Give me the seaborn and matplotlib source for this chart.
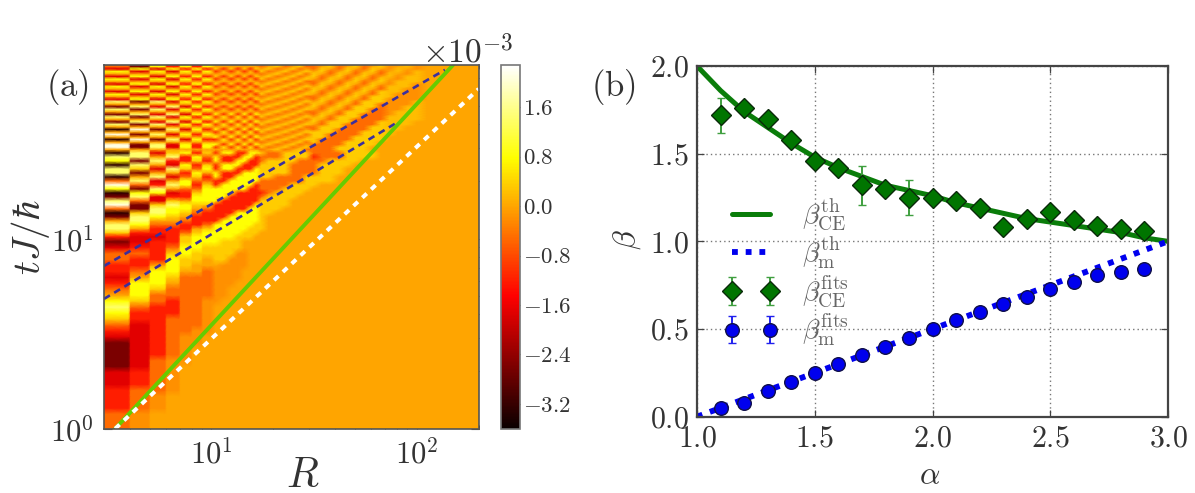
import numpy as np
import matplotlib
matplotlib.use("Agg")
import matplotlib.pyplot as plt
from matplotlib.ticker import NullFormatter
import seaborn as sns

# Correlation map, one string per time row (latest time first), one character per R bin.
map_rows_late = [
    "4173737 5555555 4564564 456456456a5ba555",
    "2727373 6363636 5645645 465465465ab5a555",
    "7272737 3636363 6456456 5645645645bab555",
    "5555555 5555555 4564564 654654654b5ab555",
    "2727373 6363636 5645645 645645645babb555",
    "7272737 3636363 6456456 5465465465abb555",
    "5555555 5555555 4564564 456456456abbb555",
    "2727373 6363636 5645645 465465465abba555",
    "7272737 3636363 6456456 564564564bbba555",
    "5555555 5555555 4564564 654654654bbaa555",
    "2727373 6363636 5645645 645645646bbaa555",
    "7272737 3636363 6456456 546546546baaa555",
    "5555555 5555555 4564564 456456466baaa555",
    "2727373 6363636 5645645 465465466aaaa555",
    "8182737 3636363 6456456 564564666aaab555",
    "5555555 5555555 4564564 654654664aaab555",
    "1828273 6363636 5645645 645646664aabb555",
    "8182737 3636363 6456456 546546644aabb555",
    "5555555 5555555 4564564 456466644abbb555",
    "1828273 7373737 5645645 465466444abbb555",
    "8182737 3737373 6456456 564666444bbbb555",
    "5555555 5555555 4564564 654664444bbbb555",
    "1828273 7373737 5645645 646664446bbb5555",
    "8182737 3737373 6456456 546644446bbb5555",
    "5555555 5555555 4564564 466644466bb55555",
    "0918273 7373737 5645645 466444466bb55555",
    "5555555 3737373 6456456 666444666b555555",
    "9182737 5555555 4564564 664444666b555555",
    "5555555 7373737 5645645 6644466665555555",
    "0918273 3737373 6456456 6444466665555555",
    "5555555 5555555 4564564 6444666655555555",
    "9182737 7373737 5645645 4444666655555555",
    "9182737 3737373 6456456 4446666555555555",
    "5555555 5555555 4564564 4446666555555555",
]
map_rows_mid = [
    "0826736 3773377 6446666444466665",
    "8858374 7333773 4446666344466665",
    "7183363 7337733 4666644446666555",
    "0852736 3777333 6666444466665555",
    "8628647 3773337 6666444466655555",
    "8155375 7333777 6666444466655555",
    "0582463 7337777 6644446666555555",
    "4825744 3377777 4444446666555555",
    "9438736 3777773 4444666655555555",
    "7185447 7777733 4446666555555555",
    "0772367 7773333 3466665555555555",
    "1823377 7733333 4666655555555555",
    "8426577 7333333 6666555555555555",
    "9168766 3333337 6666555555555555",
    "4187754 3333377 6665555555555555",
    "0687643 3337777 6655555555555555",
    "1876533 3377777 6555555555555555",
    "5855433 3777777 6555555555555555",
    "8744334 7777776 6555555555555555",
    "8533356 7777766 6555555555555555",
    "6333467 7777666 5555555555555555",
    "3223677 7776665 5555555555555555",
]
map_rows_early = [
    "1233677 76665", "2334776 66665", "4436766 666aa", "4337665 66aaa",
    "3357655 5aaaa", "3477554 aaaa", "2576444 aaaa", "3775444 aaa",
    "4764444 aa", "5744444 aa", "764344a a", "843344a",
    "733344a", "633444a", "423444a", "32344aa",
    "2234aa", "1234aa", "1234a", "1234a",
    "124aa", "124a", "234a", "234a",
    "234a", "344a", "34a", "34a",
    "34a", "4a", "4a", "4a",
]
level_values = {
    "0": -3.3, "1": -2.6, "2": -1.7, "3": -1.2, "4": -0.5, "a": -0.2, "5": 0.0,
    "b": 0.2, "6": 0.35, "7": 0.8, "8": 1.4, "9": 2.1,
}
R_edges = [3, 4, 5, 6, 7, 8, 9, 10, 11, 12, 13, 14, 15, 16, 17, 18, 20, 22, 24, 26, 28,
           30, 33, 36, 40, 44, 48, 53, 58, 64, 70, 77, 85, 95, 105, 120, 140, 200]

# Light-cone guide lines: R and t end points.
upper_blue_R, upper_blue_t = [3, 137], [7.18, 77.3]
lower_blue_R, lower_blue_t = [3, 80.8], [4.82, 41.1]
green_R, green_t = [3.4, 150], [1.0, 82]
white_R, white_t = [3.4, 200], [1.0, 61.4]

# Exponent fits against alpha.
alpha_fits = [1.1, 1.2, 1.3, 1.4, 1.5, 1.6, 1.7, 1.8, 1.9, 2.0, 2.1, 2.2, 2.3, 2.4, 2.5, 2.6, 2.7, 2.8, 2.9]
beta_ce_fits = [1.72, 1.76, 1.70, 1.58, 1.46, 1.42, 1.32, 1.30, 1.25, 1.25, 1.23, 1.19, 1.08, 1.13, 1.17, 1.12, 1.09, 1.07, 1.06]
beta_ce_err = [0.10, 0.02, 0.02, 0.02, 0.03, 0.02, 0.11, 0.02, 0.10, 0.02, 0.02, 0.02, 0.02, 0.02, 0.02, 0.02, 0.02, 0.02, 0.02]
beta_m_fits = [0.05, 0.08, 0.145, 0.20, 0.25, 0.30, 0.35, 0.40, 0.45, 0.50, 0.55, 0.595, 0.64, 0.685, 0.73, 0.77, 0.81, 0.825, 0.845]
beta_m_err = [0.01] * 19
alpha_theory = [1.0, 1.1, 1.2, 1.3, 1.4, 1.5, 1.6, 1.7, 1.8, 1.9, 2.0, 2.1, 2.2, 2.3, 2.4, 2.5, 2.6, 2.7, 2.8, 2.9, 3.0]
beta_ce_theory = [2.0, 1.86, 1.74, 1.65, 1.56, 1.48, 1.42, 1.37, 1.32, 1.29, 1.26, 1.22, 1.19, 1.16, 1.13, 1.11, 1.09, 1.07, 1.05, 1.02, 1.0]
alpha_m_theory = [1.0, 3.0]
beta_m_theory = [0.0, 1.0]

sns.set_theme(style="ticks")
plt.rcParams.update({
    "font.family": "serif", "font.serif": ["cmr10", "DejaVu Serif"],
    "mathtext.fontset": "cm", "axes.unicode_minus": False,
    "text.color": "#333333", "axes.labelcolor": "#333333",
    "xtick.color": "#333333", "ytick.color": "#333333",
    "axes.edgecolor": "#555555", "axes.formatter.use_mathtext": True,
})

W, H = 1195, 493
fig = plt.figure(figsize=(W / 100, H / 100), dpi=100, facecolor="white")


def rect(x0, x1, y0, y1):
    return [x0 / W, 1 - y1 / H, (x1 - x0) / W, (y1 - y0) / H]


ax_map = fig.add_axes(rect(104, 478.7, 65, 428.7))
cax = fig.add_axes(rect(501, 520, 65, 428.7))
ax_fit = fig.add_axes(rect(697, 1168, 66, 416.7))

# Panel (a): map on log-log axes. The first bins keep flat tops with soft joins;
# the wider range of R is shaded between bin centres.
rows = [r.replace(" ", "") for r in map_rows_late + map_rows_mid + map_rows_early]
n_R = len(R_edges) - 1
grid = np.array([[level_values[c] for c in r.ljust(n_R, "5")[:n_R]] for r in rows])[::-1]
t_edges = np.concatenate([
    np.geomspace(1, 10, len(map_rows_early) + 1),
    np.geomspace(10, 29, len(map_rows_mid) + 1)[1:],
    np.geomspace(29, 82, len(map_rows_late) + 1)[1:],
])
t_centres = np.sqrt(t_edges[:-1] * t_edges[1:])
t_vertices = np.concatenate([[1.0], t_centres, [82.0]])
grid_t = np.vstack([grid[0], grid, grid[-1]])

FLAT_BINS = 7
x_vertices, columns = [], []
for i in range(n_R):
    lo, hi = R_edges[i], R_edges[i + 1]
    if i < FLAT_BINS:
        x_vertices += [lo * 1.012, hi / 1.012]
        columns += [i, i]
    else:
        x_vertices.append(np.sqrt(lo * hi))
        columns.append(i)
x_vertices[0] = 3.0
x_vertices.append(200.0)
columns.append(n_R - 1)
mesh = ax_map.pcolormesh(x_vertices, t_vertices, grid_t[:, columns], cmap="hot", vmin=-3.6, vmax=2.28,
                         shading="gouraud", rasterized=True)
ax_map.set_xscale("log")
ax_map.set_yscale("log")

sns.lineplot(x=upper_blue_R, y=upper_blue_t, ax=ax_map, color="#3b2f9e", lw=1.9,
             linestyle=(0, (2.6, 1.9)), errorbar=None, sort=False)
sns.lineplot(x=lower_blue_R, y=lower_blue_t, ax=ax_map, color="#3b2f9e", lw=1.9,
             linestyle=(0, (2.6, 1.9)), errorbar=None, sort=False)
sns.lineplot(x=green_R, y=green_t, ax=ax_map, color="#66cc00", lw=2.8, errorbar=None, sort=False)
sns.lineplot(x=white_R, y=white_t, ax=ax_map, color="white", lw=2.9,
             linestyle=(0, (1.5, 1.5)), errorbar=None, sort=False)
ax_map.set_xlim(3, 200)
ax_map.set_ylim(1, 82)
ax_map.set_xticks([10, 100], [r"$10^{1}$", r"$10^{2}$"], fontsize=22)
ax_map.set_yticks([1, 10], [r"$10^{0}$", r"$10^{1}$"], fontsize=22)
ax_map.xaxis.set_minor_formatter(NullFormatter())
ax_map.yaxis.set_minor_formatter(NullFormatter())
ax_map.tick_params(which="major", direction="in", top=True, right=True, length=6, width=0.8,
                   color="#444444", pad=7)
ax_map.tick_params(which="minor", direction="in", top=True, right=True, length=3, width=0.7,
                   color="#444444")
for s in ax_map.spines.values():
    s.set_linewidth(1.2)

cbar = fig.colorbar(mesh, cax=cax)
cbar.set_ticks([1.6, 0.8, 0.0, -0.8, -1.6, -2.4, -3.2])
cbar.set_ticklabels([r"$1.6$", r"$0.8$", r"$0.0$", r"$-0.8$", r"$-1.6$", r"$-2.4$", r"$-3.2$"], fontsize=16.5)
cbar.ax.tick_params(direction="in", length=5, width=0.8, color="#444444", pad=2)
cbar.outline.set_edgecolor("#777777")
cbar.outline.set_linewidth(1.2)

fig.text(513 / W, 1 - 63 / H, r"$\times 10^{-3}$", ha="right", va="baseline", fontsize=24)
fig.text(67 / W, 1 - 96 / H, r"$\mathrm{(a)}$", ha="center", va="baseline", fontsize=25)
fig.text(303 / W, 1 - 487 / H, r"$R$", ha="center", va="baseline", fontsize=30)
fig.text(30 / W, 1 - 237 / H, r"$tJ/\hbar$", ha="center", va="center", rotation=90, fontsize=28)

# Panel (b): exponents
line_ce = sns.lineplot(x=alpha_theory, y=beta_ce_theory, ax=ax_fit, color="#0a7d0a", lw=3.6,
                       errorbar=None, sort=False).get_lines()[-1]
line_m = sns.lineplot(x=alpha_m_theory, y=beta_m_theory, ax=ax_fit, color="#0000ee", lw=4.2,
                      linestyle=(0, (1.0, 1.35)), errorbar=None, sort=False).get_lines()[-1]
err_ce = ax_fit.errorbar(alpha_fits, beta_ce_fits, yerr=beta_ce_err, fmt="D", ms=10.4, mfc="#007500",
                         mec="#0a2a0a", mew=1.0, ecolor="#3f9f3f", elinewidth=1.4, capsize=3, capthick=1.2,
                         zorder=5)
err_m = ax_fit.errorbar(alpha_fits, beta_m_fits, yerr=beta_m_err, fmt="o", ms=9.8, mfc="#0000ee",
                        mec="#10104a", mew=1.0, ecolor="#2020ee", elinewidth=1.4, capsize=3, capthick=1.2,
                        zorder=6)
ax_fit.set_xlim(1, 3)
ax_fit.set_ylim(0, 2)
ax_fit.set_xticks([1, 1.5, 2, 2.5, 3], [r"$1.0$", r"$1.5$", r"$2.0$", r"$2.5$", r"$3.0$"], fontsize=21.5)
ax_fit.set_yticks([0, 0.5, 1, 1.5, 2], [r"$0.0$", r"$0.5$", r"$1.0$", r"$1.5$", r"$2.0$"], fontsize=21.5)
ax_fit.tick_params(direction="in", top=True, right=True, length=5, width=0.9, color="#444444", pad=6)
ax_fit.grid(True, ls=(0, (1, 2.2)), color="#777777", lw=1.0)
ax_fit.set_axisbelow(True)
for s in ax_fit.spines.values():
    s.set_linewidth(1.6)
    s.set_color("#444444")

leg = ax_fit.legend(
    [line_ce, line_m, err_ce, err_m],
    [r"$\beta_{\mathrm{CE}}^{\mathrm{th}}$", r"$\beta_{\mathrm{m}}^{\mathrm{th}}$",
     r"$\beta_{\mathrm{CE}}^{\mathrm{fits}}$", r"$\beta_{\mathrm{m}}^{\mathrm{fits}}$"],
    loc="lower left", bbox_to_anchor=(0.057, 0.195), frameon=False, numpoints=2, fontsize=20,
    handlelength=1.95, handletextpad=0.85, labelspacing=0.08, borderpad=0, borderaxespad=0,
)
for txt in leg.get_texts():
    txt.set_color("#666666")

fig.text(613 / W, 1 - 96 / H, r"$\mathrm{(b)}$", ha="center", va="baseline", fontsize=25)
fig.text(930 / W, 1 - 484 / H, r"$\alpha$", ha="center", va="baseline", fontsize=23)
fig.text(627 / W, 1 - 240 / H, r"$\beta$", ha="center", va="center", rotation=90, fontsize=23)

fig.savefig("out.png", dpi=100, facecolor="white")
